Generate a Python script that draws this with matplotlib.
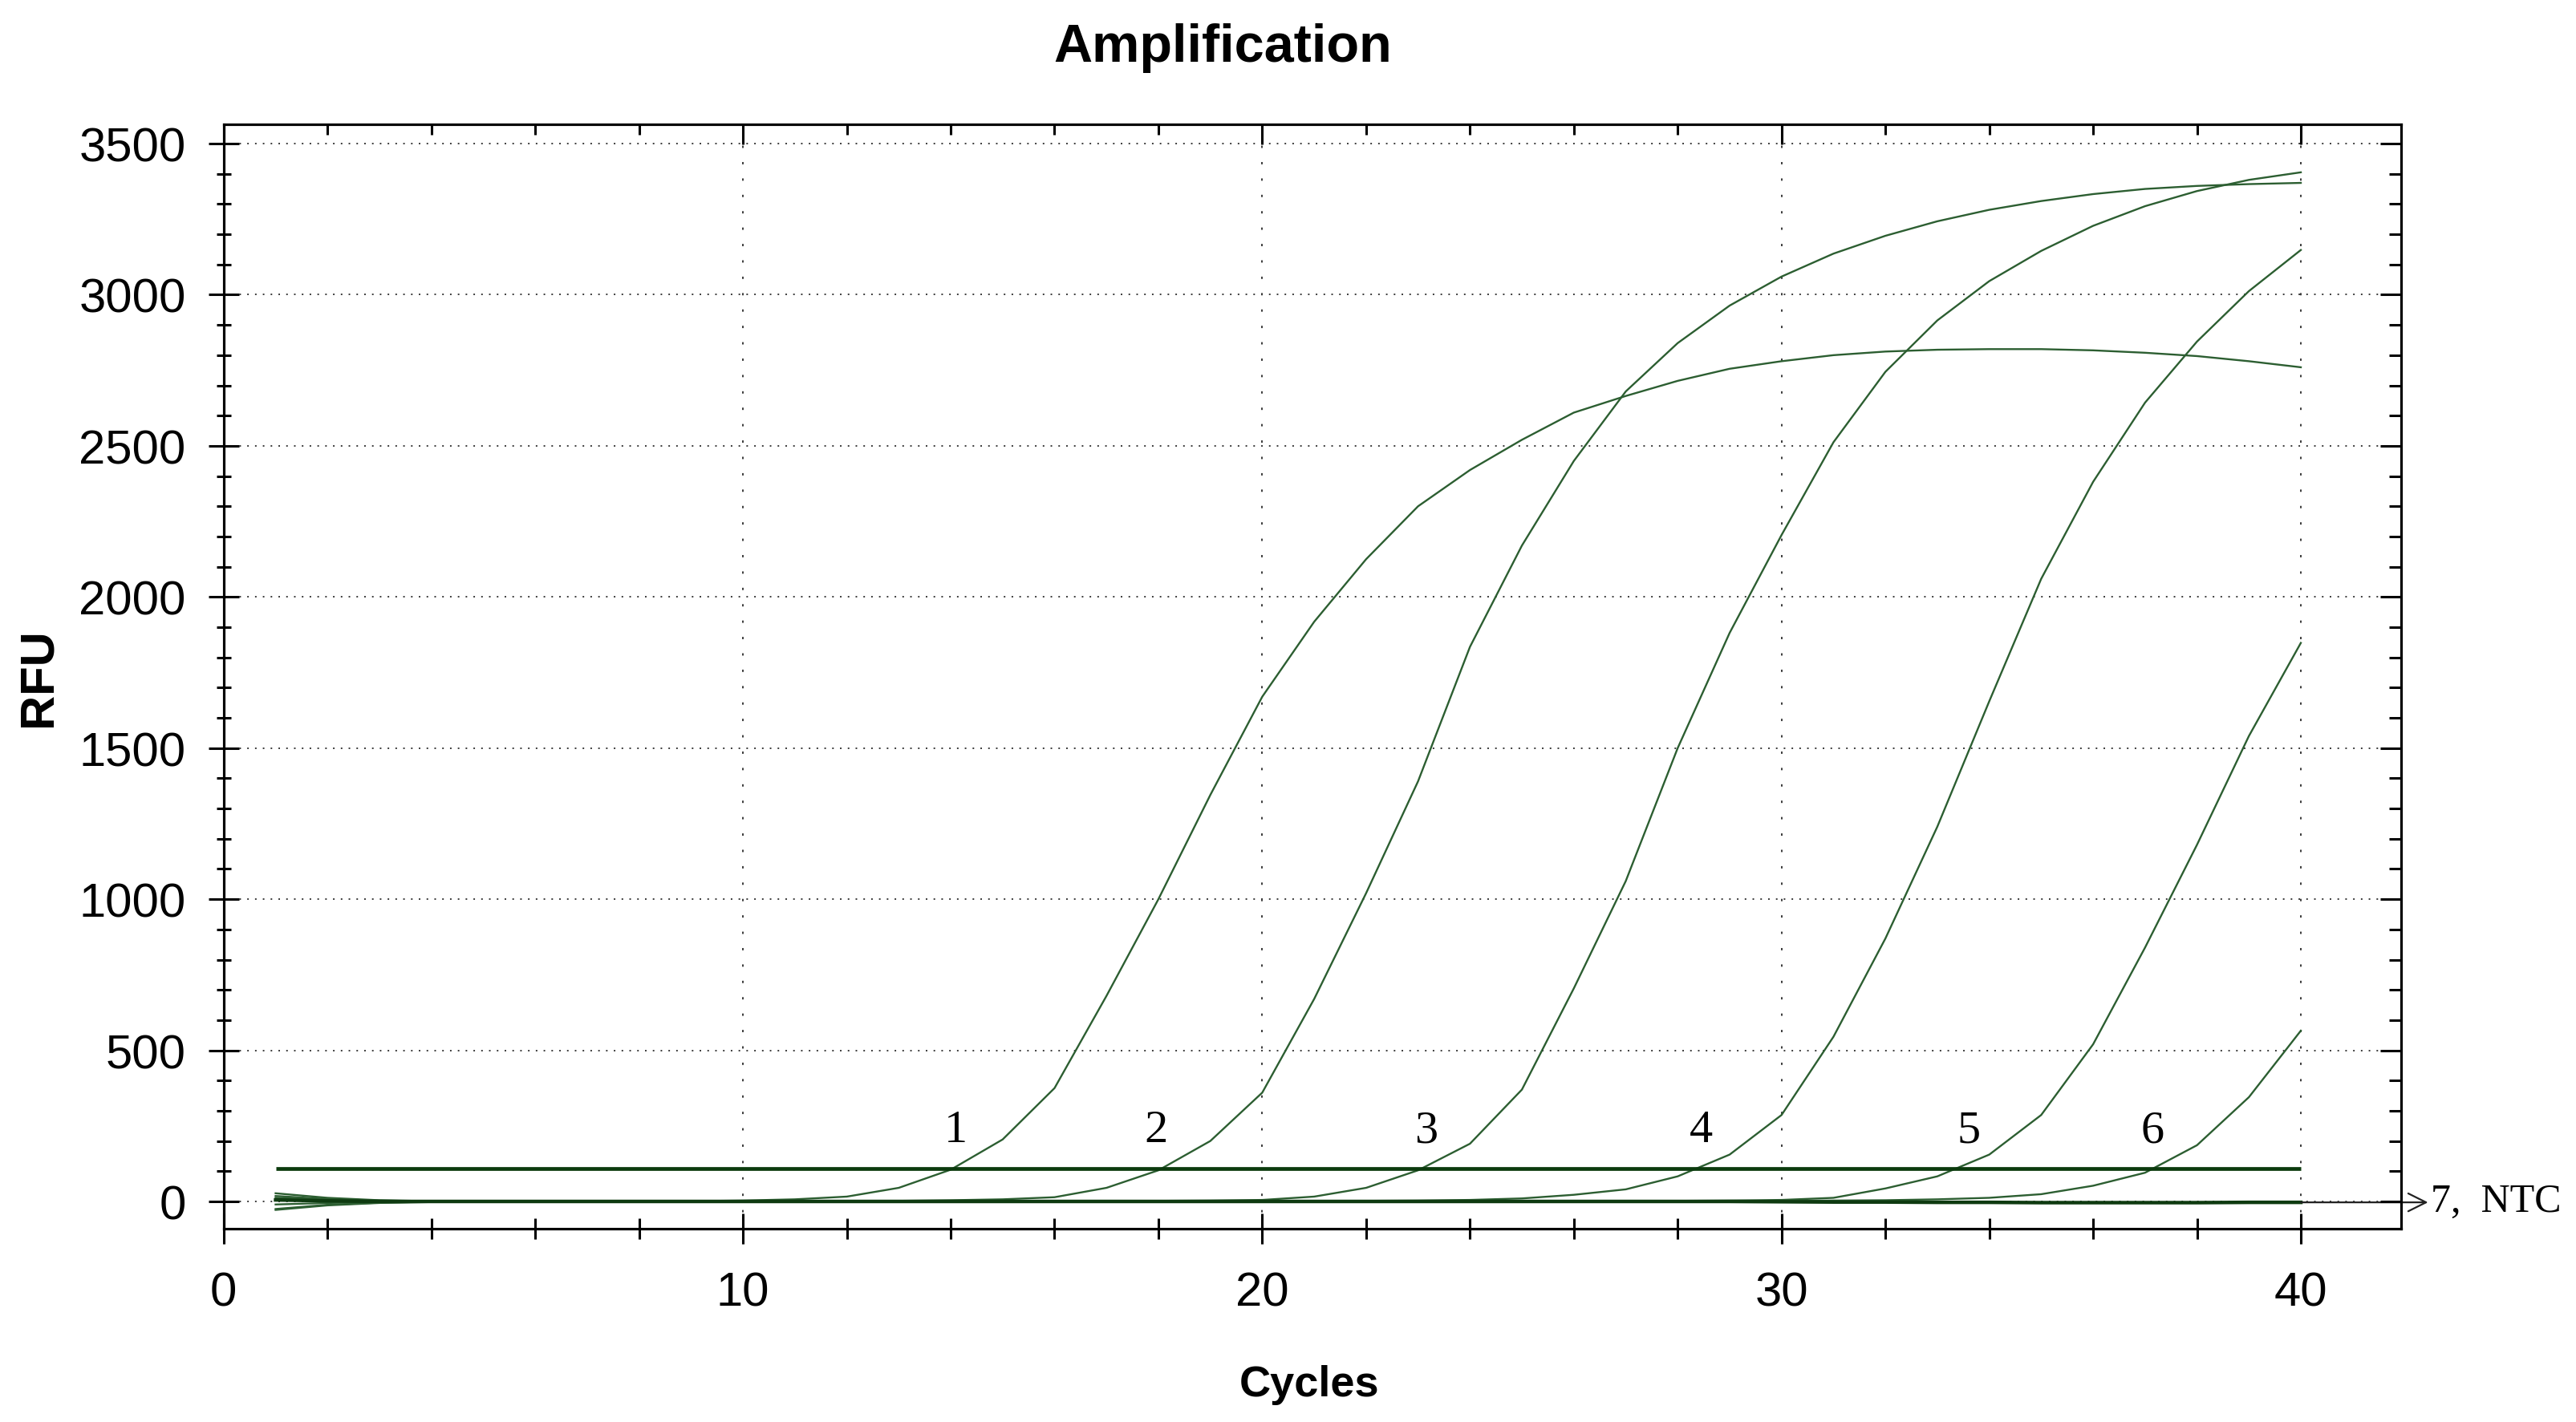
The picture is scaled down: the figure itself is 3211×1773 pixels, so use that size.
#!/usr/bin/env python3
# -*- coding: utf-8 -*-
"""
qPCR 扩增曲线 (Amplification)
"""

import numpy as np
import matplotlib
matplotlib.use('Agg')
import matplotlib.pyplot as plt
from matplotlib.ticker import MultipleLocator

# 数据
cycles = np.arange(1, 41)

curve_1 = [27, 12, 4, 1, -1, -1, 0, 0, 1, 3,
           7, 16, 45, 105, 205, 375, 680, 1000, 1345, 1670,
           1918, 2125, 2300, 2420, 2520, 2610, 2665, 2715, 2755, 2780,
           2800, 2812, 2818, 2820, 2820, 2816, 2808, 2797, 2780, 2760]

curve_2 = [12, 5, 2, 0, 0, -1, -1, 0, 0, 0,
           0, 1, 2, 4, 7, 14, 45, 103, 200, 360,
           670, 1020, 1390, 1835, 2170, 2450, 2680, 2840, 2964, 3060,
           3136, 3195, 3243, 3281, 3310, 3333, 3350, 3360, 3366, 3370]

curve_3 = [-10, -5, -2, 0, 0, 0, 0, -1, -1, 0,
           0, 0, 0, 0, 0, 1, 1, 2, 3, 5,
           16, 45, 103, 191, 370, 705, 1060, 1500, 1881, 2205,
           2512, 2745, 2915, 3045, 3145, 3228, 3293, 3343, 3380, 3405]

curve_4 = [18, 8, 3, 1, 0, 0, 0, 0, 0, 0,
           -1, -1, -1, 0, 0, 0, 0, 0, 0, 1,
           1, 2, 3, 5, 10, 22, 40, 83, 155, 286,
           545, 870, 1240, 1655, 2060, 2381, 2643, 2845, 3012, 3148]

curve_5 = [-25, -11, -4, -1, 0, 0, 0, 0, 0, 0,
           0, 0, 0, 0, 0, 0, 0, 0, 0, 0,
           0, 0, 0, 0, 1, 1, 2, 2, 3, 5,
           12, 43, 83, 155, 286, 520, 840, 1180, 1540, 1848]

curve_6 = [-28, -13, -5, -2, 0, 0, 0, 0, 0, 0,
           0, 0, 0, 0, 0, 0, 0, 0, 0, 0,
           0, 0, 0, 0, 0, 0, 0, 1, 1, 2,
           3, 4, 7, 12, 24, 52, 95, 186, 345, 565]

ntc = [5, 2, 0, 0, 0, 0, 0, 0, 0, 0,
       0, 0, 0, 0, 0, 0, 0, 0, 0, 0,
       0, 0, 0, 0, 0, 0, 0, 0, 0, -1,
       -2, -2, -3, -3, -4, -4, -4, -4, -3, -3]

threshold = 110

curve_labels = ['1', '2', '3', '4', '5', '6']
label_cycles = [14.1, 17.95, 23.15, 28.45, 33.6, 37.15]
label_rfu = 235

samples = [curve_1, curve_2, curve_3, curve_4, curve_5, curve_6]

# 字体
plt.rcParams['font.family'] = ['Liberation Sans', 'DejaVu Sans']
serif = ['Liberation Serif', 'DejaVu Serif']

fig = plt.figure(figsize=(32.12, 17.74), dpi=100)
ax = fig.add_axes([0.0868, 0.1359, 0.9318 - 0.0868, 0.9121 - 0.1359])

# 曲线
line_color = '#2c5e31'
for vals in samples:
    ax.plot(cycles, vals, color=line_color, lw=1.7, zorder=3)
ax.plot(cycles, ntc, color='#0e3a10', lw=3.2, zorder=3)

# 阈值线
ax.hlines(threshold, cycles[0], cycles[-1], color='#0b3a0d', lw=3.4, zorder=4)

# 坐标范围
ax.set_xlim(0, 41.93)
ax.set_ylim(-90, 3564)

ax.xaxis.set_major_locator(MultipleLocator(10))
ax.xaxis.set_minor_locator(MultipleLocator(2))
ax.yaxis.set_major_locator(MultipleLocator(500))
ax.yaxis.set_minor_locator(MultipleLocator(100))

# 网格
ax.grid(axis='y', which='major', color='#3a3a3a', lw=1.4, linestyle=(0, (1, 4)))
ax.grid(axis='x', which='major', color='#3a3a3a', lw=1.4, linestyle=(0, (1.5, 9)))
ax.get_xgridlines()[0].set_visible(False)

for sp in ax.spines.values():
    sp.set_linewidth(2.2)

ax.tick_params(axis='both', which='both', direction='inout', width=2.2, top=False, right=False)
ax.tick_params(axis='y', which='major', length=28, pad=20, labelsize=43)
ax.tick_params(axis='y', which='minor', length=13)
ax.tick_params(axis='x', which='major', length=28, pad=24, labelsize=43)
ax.tick_params(axis='x', which='minor', length=19)

# 顶部和右侧刻度 (向内)
axt = ax.twiny()
axt.set_xlim(ax.get_xlim())
axt.xaxis.set_major_locator(MultipleLocator(10))
axt.xaxis.set_minor_locator(MultipleLocator(2))
axt.tick_params(axis='x', which='both', direction='in', width=2.2, labeltop=False)
axt.tick_params(axis='x', which='major', length=18)
axt.tick_params(axis='x', which='minor', length=9)

axr = ax.twinx()
axr.set_ylim(ax.get_ylim())
axr.yaxis.set_major_locator(MultipleLocator(500))
axr.yaxis.set_minor_locator(MultipleLocator(100))
axr.tick_params(axis='y', which='both', direction='in', width=2.2, labelright=False)
axr.tick_params(axis='y', which='major', length=19)
axr.tick_params(axis='y', which='minor', length=11)
for a in (axt, axr):
    for sp in a.spines.values():
        sp.set_linewidth(2.2)

# 曲线编号
for lab, cx in zip(curve_labels, label_cycles):
    ax.text(cx, label_rfu, lab, ha='center', va='center', fontsize=42,
            family=serif, zorder=5)

# NTC 箭头
ax.annotate('', xy=(42.45, ntc[-1]), xytext=(cycles[-1], ntc[-1]),
            arrowprops=dict(arrowstyle='->', color='#222222', lw=1.6,
                            mutation_scale=40, shrinkA=0, shrinkB=0),
            annotation_clip=False)
ax.text(42.5, 0, '7,  NTC', ha='left', va='center', fontsize=36,
        family=serif, clip_on=False)

# 标题和坐标轴标签
fig.text(0.4745, 0.966, 'Amplification', ha='center', va='center',
         fontsize=48, fontweight='bold')
fig.text(0.508, 0.0265, 'Cycles', ha='center', va='center',
         fontsize=39, fontweight='bold')
fig.text(0.0149, 0.524, 'RFU', ha='center', va='center', rotation=90,
         fontsize=43, fontweight='bold')

fig.savefig('out.png', dpi=100, facecolor='white')
